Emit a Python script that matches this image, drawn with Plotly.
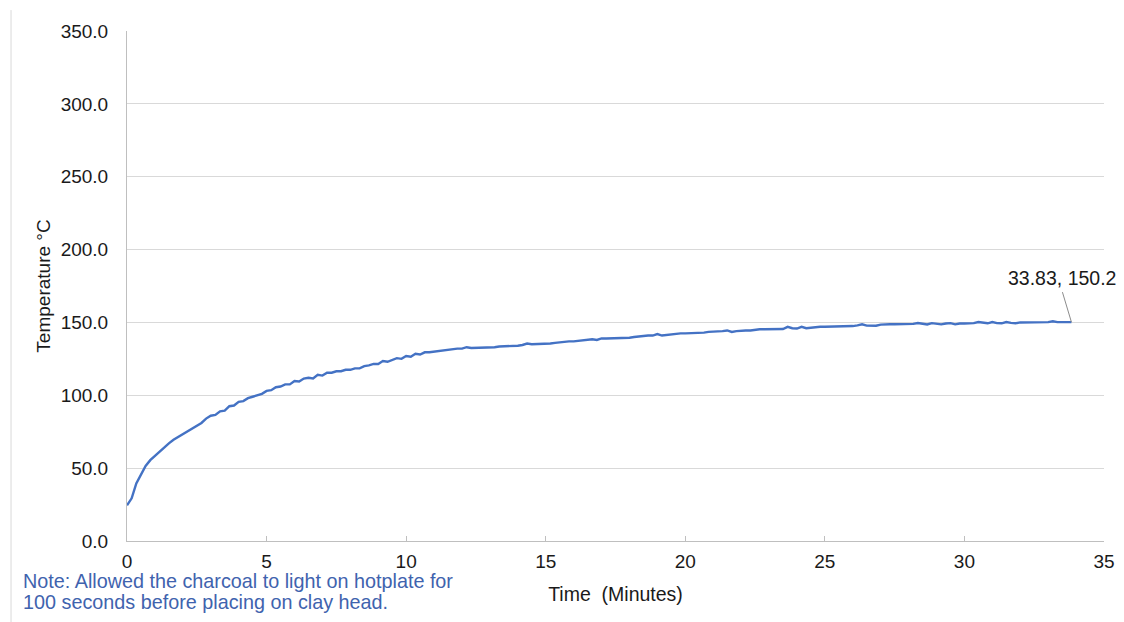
import plotly.graph_objects as go

# Logged every 10 seconds after the charcoal was placed on the clay head
elapsed_seconds = list(range(0, 2031, 10))

temperature_c = [
    # 0-5 min
    24.5, 29.3, 39.5, 45.0, 51.5, 55.5,
    58.5, 61.5, 64.5, 67.0, 69.5, 71.5,
    73.5, 75.5, 77.5, 79.5, 81.0, 84.0,
    86.0, 86.5, 89.0, 89.5, 92.5, 93.0,
    95.5, 96.0, 98.0, 99.0, 100.2, 101.0,
    # 5-10 min
    103.0, 103.5, 105.5, 106.0, 107.5, 107.5,
    109.8, 109.5, 111.5, 112.0, 111.5, 114.0,
    113.5, 115.5, 115.5, 116.5, 116.5, 117.5,
    117.5, 118.5, 118.5, 120.0, 120.5, 121.5,
    121.5, 123.5, 123.0, 124.5, 125.5, 125.0,
    # 10-15 min
    127.0, 126.5, 128.5, 128.0, 129.5, 129.5,
    130.0, 130.5, 131.0, 131.5, 131.5, 132.0,
    132.0, 133.0, 132.5, 132.5, 132.5, 132.5,
    132.5, 133.0, 133.5, 133.5, 134.0, 134.0,
    134.0, 134.5, 135.5, 135.0, 135.0, 135.0,
    # 15-20 min
    135.0, 135.5, 136.0, 136.5, 136.5, 137.0,
    137.0, 137.5, 137.5, 138.0, 138.5, 138.0,
    139.0, 139.0, 139.0, 139.5, 139.5, 139.5,
    139.5, 140.0, 140.5, 140.5, 141.0, 141.0,
    142.0, 141.0, 141.5, 142.0, 142.0, 142.5,
    # 20-25 min
    142.5, 142.5, 143.0, 143.0, 143.0, 143.5,
    143.5, 144.0, 144.0, 144.5, 143.5, 144.0,
    144.5, 144.5, 144.5, 145.0, 145.3, 145.3,
    145.3, 145.3, 145.3, 145.5, 147.0, 146.0,
    145.8, 147.0, 146.0, 146.5, 147.0, 147.0,
    # 25-30 min
    147.0, 147.0, 147.0, 147.5, 147.5, 147.5,
    147.5, 148.0, 148.7, 147.8, 147.7, 147.7,
    148.5, 148.8, 148.8, 148.8, 148.8, 148.8,
    148.8, 149.0, 149.6, 149.0, 148.6, 149.5,
    149.3, 148.7, 149.3, 149.5, 148.7, 149.3,
    # 30-33.83 min
    149.3, 149.3, 149.5, 150.3, 149.8, 149.4,
    150.3, 149.5, 149.4, 150.3, 149.7, 149.4,
    150.0, 150.0, 150.0, 150.0, 150.0, 150.0,
    150.2, 150.8, 150.2, 150.2, 150.2, 150.2,
]

time_min = [s / 60 for s in elapsed_seconds]

y_ticks = [0, 50, 100, 150, 200, 250, 300, 350]
x_ticks = [0, 5, 10, 15, 20, 25, 30, 35]

note_lines = [
    "Note: Allowed the charcoal to light on hotplate for",
    "100 seconds before placing on clay head.",
]

LINE_BLUE = "#4472C4"
FONT = "Liberation Sans, Arial, sans-serif"
TEXT = "#1a1a1a"

fig = go.Figure()
fig.add_trace(go.Scatter(
    x=time_min, y=temperature_c, mode="lines",
    line=dict(color=LINE_BLUE, width=2.4),
    hoverinfo="x+y", showlegend=False,
))

last_t = time_min[-1]
last_T = temperature_c[-1]

# Data label on the final reading, with a thin leader line
fig.add_annotation(
    x=last_t, y=last_T, xref="x", yref="y",
    text=f"{last_t:.2f}, {last_T:.1f}", showarrow=False,
    xanchor="center", yanchor="middle", xshift=-9, yshift=44,
    font=dict(family=FONT, size=19.5, color=TEXT),
)
fig.add_shape(
    type="line", xref="x", yref="y",
    xsizemode="pixel", ysizemode="pixel",
    xanchor=last_t, yanchor=last_T,
    x0=0, x1=-9, y0=0, y1=30,
    line=dict(color="#8c8c8c", width=1),
)

# Chart-area edge on the left
fig.add_shape(
    type="line", xref="paper", yref="paper",
    x0=-0.1187, x1=-0.1187, y0=1.041, y1=-0.2,
    line=dict(color="#d9d9d9", width=1),
)

for i, line in enumerate(note_lines):
    fig.add_annotation(
        x=-0.1084, y=-0.0784 - i * 0.0412, xref="paper", yref="paper",
        text=line, showarrow=False, xanchor="left", yanchor="middle",
        font=dict(family=FONT, size=19.8, color="#3F63AE"),
    )

fig.update_layout(
    width=1124, height=622,
    margin=dict(l=127, r=20, t=31, b=81, autoexpand=False),
    paper_bgcolor="white", plot_bgcolor="white",
    font=dict(family=FONT, size=19, color=TEXT),
    showlegend=False,
)
fig.update_xaxes(
    range=[0, 35], tickvals=x_ticks, ticktext=[str(v) for v in x_ticks],
    showgrid=False, zeroline=False, automargin=False,
    showline=True, linecolor="#bfbfbf", linewidth=1,
    ticks="inside", ticklen=5, tickcolor="#bfbfbf",
    tickfont=dict(size=19), ticklabelstandoff=3,
    title=dict(text="Time  (Minutes)", font=dict(size=19.5), standoff=16),
)
fig.update_yaxes(
    range=[0, 350], tickvals=y_ticks, ticktext=[f"{v:.1f}" for v in y_ticks],
    showgrid=True, gridcolor="#d9d9d9", gridwidth=1, zeroline=False,
    automargin=False,
    showline=True, linecolor="#bfbfbf", linewidth=1,
    ticks="", tickfont=dict(size=19), ticklabelstandoff=14,
    title=dict(text="Temperature °C", font=dict(size=19), standoff=5),
)

fig.write_html("out.html")
